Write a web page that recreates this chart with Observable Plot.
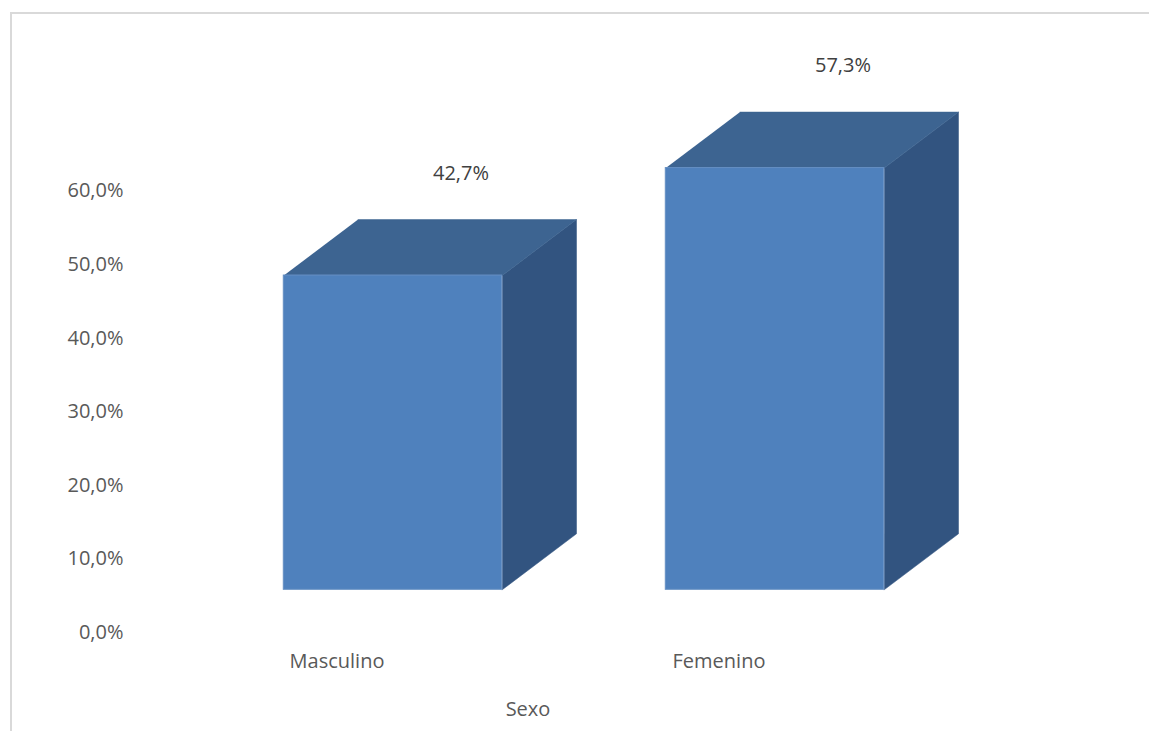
<!DOCTYPE html>
<html>
<head>
<meta charset="utf-8">
<script src="https://cdn.jsdelivr.net/npm/d3@7"></script>
<script src="https://cdn.jsdelivr.net/npm/@observablehq/plot@0.6"></script>
<style>
  html, body { margin: 0; padding: 0; background: #ffffff; overflow: hidden; width: 1149px; height: 731px; }
  #frame { position: absolute; left: 10px; top: 12px; width: 1300px; height: 900px; border-top: 2px solid #d9d9d9; border-left: 2px solid #d9d9d9; }
  #chart { position: absolute; left: 0; top: 0; }
</style>
</head>
<body>
<div id="frame"></div>
<div id="chart"></div>
<script>
const categories = ["Masculino", "Femenino"];
const values = [0.427, 0.573];
const yTicks = [0, 0.1, 0.2, 0.3, 0.4, 0.5, 0.6];
const axisTitle = "Sexo";

// 3D geometry (in scale units)
const HW = 0.2859;   // half bar width (x units)
const DX = 0.1945;   // depth offset in x
const DY = 0.0761;   // depth offset in y

const fmt = v => (v * 100).toFixed(1).replace(".", ",") + "%";

const bars = categories.map((c, i) => ({c, i, v: values[i]}));
const topFaces = bars.flatMap(b => [
  [b.i - HW, b.v], [b.i + HW, b.v], [b.i + HW + DX, b.v + DY], [b.i - HW + DX, b.v + DY]
].map(([x, y]) => ({x, y, c: b.c})));
const sideFaces = bars.flatMap(b => [
  [b.i + HW, 0], [b.i + HW + DX, DY], [b.i + HW + DX, b.v + DY], [b.i + HW, b.v]
].map(([x, y]) => ({x, y, c: b.c})));

const chart = Plot.plot({
  width: 1149,
  height: 731,
  marginLeft: 126,
  marginRight: 0,
  marginTop: 0,
  marginBottom: 0,
  x: {type: "linear", domain: [0, 1], range: [392.5, 774.5], axis: null},
  y: {domain: [0, 0.6], range: [589.3, 589.3 - 0.6 * 736]},
  style: {fontFamily: "'Open Sans', sans-serif", fontSize: "20px", color: "#595959", background: "transparent", overflow: "visible"},
  marks: [
    Plot.axisY(yTicks, {tickSize: 0, tickPadding: 3, dy: 42.7, tickFormat: fmt, fill: "#595959", label: null}),
    Plot.line(sideFaces, {x: "x", y: "y", z: "c", fill: "#325480", stroke: "#325480", strokeWidth: 0.5, curve: "linear"}),
    Plot.line(topFaces, {x: "x", y: "y", z: "c", fill: "#3D6491", stroke: "#3D6491", strokeWidth: 0.5, curve: "linear"}),
    Plot.rect(bars, {x1: d => d.i - HW, x2: d => d.i + HW, y1: 0, y2: "v", fill: "#4F81BD", stroke: "#6690C4", strokeWidth: 1}),
    Plot.text(bars, {x: "i", y: "v", text: d => fmt(d.v), dx: 68, dy: -102, fill: "#404040"}),
    Plot.text(categories, {x: (d, i) => i, y: () => 0, text: d => d, dx: -56, dy: 72, fill: "#595959"}),
    Plot.text([axisTitle], {x: () => 0.5, y: () => 0, text: d => d, dx: -56, dy: 120, fill: "#595959"})
  ]
});
document.getElementById("chart").appendChild(chart);
</script>
</body>
</html>
